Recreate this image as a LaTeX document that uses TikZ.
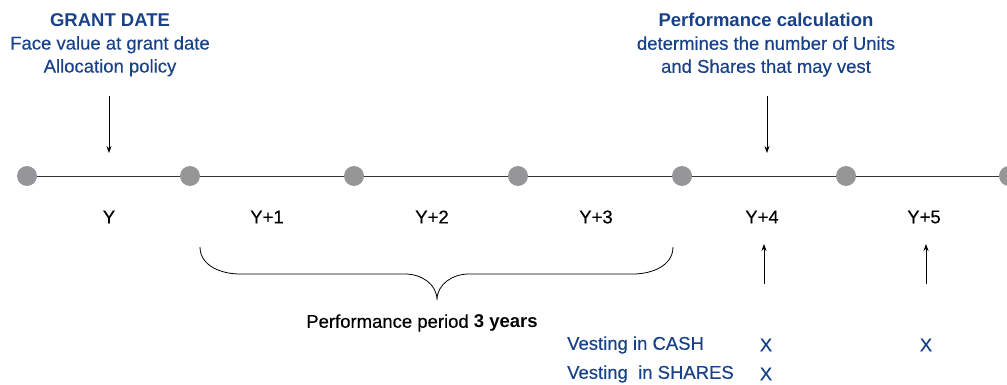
\documentclass[tikz,border=0pt]{standalone}
\usepackage{fontspec}
\setmainfont{Liberation Sans}
\newfontfamily\medfont{Liberation Sans}[FakeBold=0.35]
\usetikzlibrary{arrows.meta}
\definecolor{navy}{RGB}{25,65,135}
\definecolor{dotgray}{RGB}{150,150,154}
\begin{document}
\begin{tikzpicture}[x=1pt,y=-1pt,
  dot/.style={circle,fill=dotgray,inner sep=0pt,minimum size=20pt},
  bluetxt/.style={text=navy,font=\medfont\fontsize{18.5}{23}\selectfont,align=center,inner sep=0pt},
  yr/.style={font=\medfont\fontsize{18.5}{22}\selectfont,inner sep=0pt},
  arr/.style={-{Stealth[length=7pt,width=5pt]},line width=0.8pt}]
\clip (0,0) rectangle (1007,385);
\useasboundingbox (0,0) rectangle (1007,385);
\foreach \i/\x in {0/27,1/190,2/354,3/518,4/682,5/846,6/1009}{
  \node[dot] (d\i) at (\x,176) {};
}
\draw[line width=0.8pt,black!80] (d0) -- (d1) -- (d2) -- (d3) -- (d4) -- (d5) -- (d6);
\node[bluetxt] (gd) at (110,45) {{\normalfont\bfseries GRANT DATE}\\Face value at grant date\\Allocation policy};
\node[bluetxt] (pc) at (766,45) {{\normalfont\bfseries Performance calculation}\\determines the number of Units\\and Shares that may vest};
\coordinate (a1s) at (109,96); \coordinate (a1e) at (109,153);
\coordinate (a2s) at (767,96); \coordinate (a2e) at (767,153);
\draw[arr] (a1s) -- (a1e);
\draw[arr] (a2s) -- (a2e);
\foreach \n/\x/\t in {y0/109/Y,y1/267/Y+1,y2/432/Y+2,y3/596/Y+3,y4/762/Y+4,y5/924/Y+5}{
  \node[yr] (\n) at (\x,217) {\t};
}
\draw[line width=0.8pt] (200,247) to[out=-90,in=180] (240,274) -- (405,274) to[out=0,in=90] (437,300)
  to[out=90,in=180] (469,274) -- (633,274) to[out=0,in=-90] (673,247);
\coordinate (tip) at (437,300);
\node[yr] (pp) at (422,323) {Performance period {\normalfont\bfseries 3 years}};
\coordinate (u1s) at (764,284); \coordinate (u1e) at (764,244);
\coordinate (u2s) at (926,284); \coordinate (u2e) at (926,244);
\draw[arr] (u1s) -- (u1e);
\draw[arr] (u2s) -- (u2e);
\node[bluetxt,anchor=west] (vc) at (567,345) {Vesting in CASH};
\node[bluetxt,anchor=west] (vs) at (567,374) {Vesting\ \ in SHARES};
\node[bluetxt] (x1) at (766,345) {X};
\node[bluetxt] (x2) at (926,345) {X};
\node[bluetxt] (x3) at (766,374) {X};
\end{tikzpicture}
\end{document}
